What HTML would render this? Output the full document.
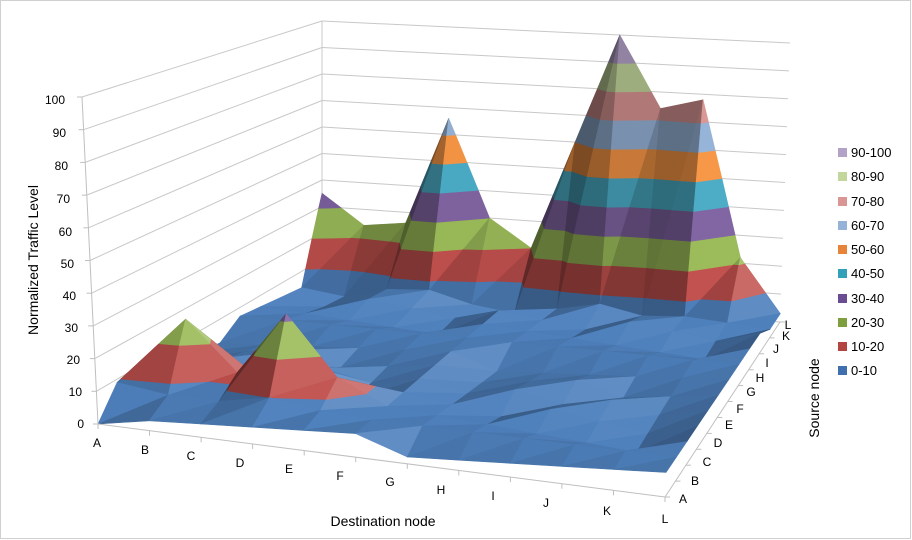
<!DOCTYPE html>
<html><head><meta charset="utf-8"><style>
html,body{margin:0;padding:0;background:#fff}
svg{display:block;font-family:"Liberation Sans",sans-serif}
</style></head><body>
<svg id="s" width="912" height="540" viewBox="0 0 912 540" xmlns="http://www.w3.org/2000/svg">
<rect x="0.5" y="0.5" width="910" height="538" fill="#fff" stroke="#d0d0d0"/>
<g id="grid" stroke="#c8c8c8" stroke-width="1" fill="none"></g>
<g id="surf"></g>
<g id="axes" stroke="#bfbfbf" stroke-width="1" fill="none"></g>
<g font-size="12" fill="#000" text-anchor="end">
<text x="84" y="428">0</text><text x="82" y="396">10</text><text x="80" y="364">20</text><text x="78" y="332">30</text><text x="76" y="300">40</text><text x="74" y="268">50</text><text x="72" y="236">60</text><text x="70" y="203">70</text><text x="68" y="170">80</text><text x="66" y="137">90</text><text x="65" y="104">100</text>
</g>
<g font-size="12" fill="#000" text-anchor="middle">
<text x="97" y="447">A</text><text x="145" y="454">B</text><text x="191" y="460">C</text><text x="240" y="467">D</text><text x="289" y="473">E</text><text x="340" y="480">F</text><text x="390" y="486">G</text><text x="441" y="494">H</text><text x="493" y="500">I</text><text x="546" y="507">J</text><text x="607" y="515">K</text><text x="665" y="523">L</text>
</g>
<g font-size="12" fill="#000" text-anchor="middle">
<text x="683" y="503">A</text><text x="695" y="485">B</text><text x="707" y="466">C</text><text x="718" y="447">D</text><text x="729" y="429">E</text><text x="740" y="413">F</text><text x="751" y="396">G</text><text x="760" y="382">H</text><text x="767" y="367">I</text><text x="776" y="353">J</text><text x="786" y="340">K</text><text x="788" y="329">L</text>
</g>
<text x="383" y="526" font-size="14" text-anchor="middle">Destination node</text>
<text transform="translate(38,260) rotate(-90)" font-size="14" text-anchor="middle">Normalized Traffic Level</text>
<text transform="translate(819,398) rotate(-90)" font-size="14" text-anchor="middle">Source node</text>
<g font-size="13" fill="#000">
<rect x="838" y="148" width="9" height="9" fill="#B3A2C7"/><text x="851" y="157">90-100</text>
<rect x="838" y="172" width="9" height="9" fill="#C3D69B"/><text x="851" y="181">80-90</text>
<rect x="838" y="197" width="9" height="9" fill="#D99694"/><text x="851" y="206">70-80</text>
<rect x="838" y="221" width="9" height="9" fill="#95B3D7"/><text x="851" y="230">60-70</text>
<rect x="838" y="245" width="9" height="9" fill="#E8833A"/><text x="851" y="254">50-60</text>
<rect x="838" y="269" width="9" height="9" fill="#31A0B8"/><text x="851" y="278">40-50</text>
<rect x="838" y="294" width="9" height="9" fill="#6A4C93"/><text x="851" y="303">30-40</text>
<rect x="838" y="318" width="9" height="9" fill="#7F9F3E"/><text x="851" y="327">20-30</text>
<rect x="838" y="342" width="9" height="9" fill="#B24441"/><text x="851" y="351">10-20</text>
<rect x="838" y="366" width="9" height="9" fill="#3F6FAF"/><text x="851" y="375">0-10</text>
</g>
</svg>
<script>
(function(){
var NS="http://www.w3.org/2000/svg";
function bl(a,b,c,d,u,w){return a*(1-u)*(1-w)+b*u*(1-w)+c*u*w+d*(1-u)*w;}
function P(i,j,v){var u=i/11,w=j/11;
 var bx=bl(98,665,780,322,u,w),by=bl(424,497,322,286,u,w);
 var s=bl(3.27,3.5,2.79,2.65,u,w),xs=bl(-0.16,0.15,0.1,0,u,w);
 return [bx+xs*v,by-s*v];}
var g=document.getElementById('grid'),sf=document.getElementById('surf'),ax=document.getElementById('axes');
function line(p,a,b){var l=document.createElementNS(NS,'line');l.setAttribute('x1',a[0].toFixed(1));l.setAttribute('y1',a[1].toFixed(1));l.setAttribute('x2',b[0].toFixed(1));l.setAttribute('y2',b[1].toFixed(1));p.appendChild(l);}
for(var v=0;v<=100;v+=10){var a=P(0,0,v),b=P(0,11,v),c=P(11,11,v);line(g,a,b);line(g,b,c);line(ax,[a[0]-5,a[1]],a);}
line(ax,P(0,0,0),P(0,0,100));line(g,P(0,11,0),P(0,11,100));
var V=[];for(var i=0;i<12;i++){V[i]=[];for(var j=0;j<12;j++){V[i][j]=2+(i*37+j*53+i*j*11)%6;}}
V[0][0]=0;V[0][1]=9;V[1][2]=27;V[3][2]=32;V[2][2]=12;V[4][2]=14;V[3][3]=12;V[3][1]=10;V[4][1]=8;
var back=[35,24,26,66,30,20,60,100,74,78,22,3];
for(var i=0;i<12;i++)V[i][11]=back[i];
V[1][10]=2;V[4][10]=3;V[5][10]=1;V[2][10]=6;V[10][10]=4;V[11][10]=3;V[9][10]=5;
var cols=['#4F81BD','#C0504D','#9BBB59','#8064A2','#4BACC6','#F79646','#95B3D7','#D99694','#C3D69B','#B3A2C7'];
function hex(c){return [parseInt(c.substr(1,2),16),parseInt(c.substr(3,2),16),parseInt(c.substr(5,2),16)];}
var L=[0.81,-0.115,0.577];
function shade(k,n){var d=n[0]*L[0]+n[1]*L[1]+n[2]*L[2];var b=(k==0?0.6:0.5)+(k==0?0.6:0.8)*Math.max(0,d);var c=hex(cols[k]);
 var r=c.map(function(x){return b<=1?x*b:x+(255-x)*(b-1)*0.9;});return 'rgb('+r.map(function(x){return Math.round(Math.min(255,x));}).join(',')+')';}
function clip(poly,t,keepAbove){var out=[];for(var q=0;q<poly.length;q++){var A=poly[q],B=poly[(q+1)%poly.length];
 var ia=keepAbove?A[2]>=t:A[2]<=t, ib=keepAbove?B[2]>=t:B[2]<=t;
 if(ia)out.push(A);
 if(ia!==ib){var f=(t-A[2])/(B[2]-A[2]);out.push([A[0]+f*(B[0]-A[0]),A[1]+f*(B[1]-A[1]),t]);}}
 return out;}
function tri(pts){var e1=[pts[1][0]-pts[0][0],pts[1][1]-pts[0][1],(pts[1][2]-pts[0][2])/10],e2=[pts[2][0]-pts[0][0],pts[2][1]-pts[0][1],(pts[2][2]-pts[0][2])/10];
 var n=[e1[1]*e2[2]-e1[2]*e2[1],e1[2]*e2[0]-e1[0]*e2[2],e1[0]*e2[1]-e1[1]*e2[0]];if(n[2]<0)n=n.map(function(x){return -x;});
 var m=Math.hypot(n[0],n[1],n[2]);n=n.map(function(x){return x/m;});
 for(var k=0;k<10;k++){var p=clip(pts,k*10,true);if(p.length<3)continue;p=clip(p,k*10+10,false);if(p.length<3)continue;
  var s=p.map(function(q){var r=P(q[0],q[1],q[2]);return r[0].toFixed(1)+','+r[1].toFixed(1);}).join(' ');
  var el=document.createElementNS(NS,'polygon');var col=shade(k,n);el.setAttribute('points',s);el.setAttribute('fill',col);el.setAttribute('stroke',col);el.setAttribute('stroke-width','0.6');el.setAttribute('stroke-linejoin','round');sf.appendChild(el);}}
var cells=[];for(var i=0;i<11;i++)for(var j=0;j<11;j++)cells.push([i,j]);
cells.sort(function(a,b){return (b[1]*1.2+(11-b[0])*0.6)-(a[1]*1.2+(11-a[0])*0.6);});
cells.forEach(function(c){var i=c[0],j=c[1];
 var p00=[i,j,V[i][j]],p10=[i+1,j,V[i+1][j]],p11=[i+1,j+1,V[i+1][j+1]],p01=[i,j+1,V[i][j+1]];
 tri([p00,p11,p01]);tri([p00,p10,p11]);});
line(ax,P(0,0,0),P(11,0,0));line(ax,P(11,0,0),P(11,11,0));
for(var i=0;i<=11;i++){var p=P(i,0,0);line(ax,p,[p[0],p[1]+5]);var q=P(11,i,0);line(ax,q,[q[0]+5,q[1]]);}
})();
</script>
</body></html>
